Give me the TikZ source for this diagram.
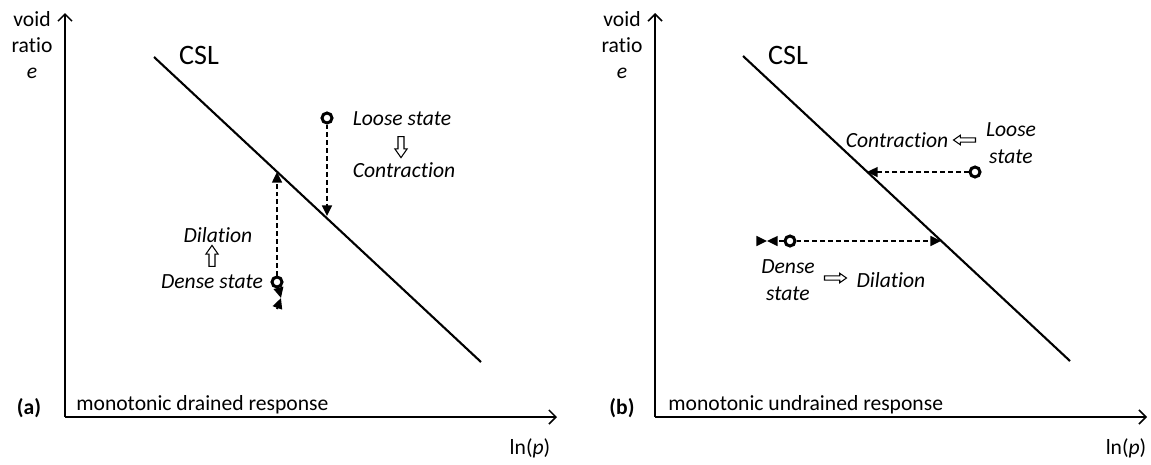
\documentclass[tikz,border=0pt]{standalone}
\usepackage{fontspec}
\setmainfont{Carlito}[Ligatures=NoCommon]
\usepackage{tikz}
\usetikzlibrary{arrows.meta,positioning,calc,shapes.arrows}
\tikzset{
  axisline/.style={-{Straight Barb[length=4pt,width=8pt]}, line width=0.9pt},
  cslline/.style={line width=1.2pt},
  pathdash/.style={dash pattern=on 2.8pt off 1.7pt, line width=1.2pt, -{Triangle[length=6pt,width=5.5pt]}},
  statecirc/.style={circle, draw, line width=1.7pt, fill=white, minimum size=0.2cm, inner sep=0pt},
  lbl/.style={font=\fontsize{12.3}{15}\selectfont, align=center, inner sep=0pt},
  statelbl/.style={font=\fontsize{12.3}{15}\selectfont\itshape, align=center, inner sep=0pt},
  openarrow/.style={single arrow, draw, line width=0.6pt, inner xsep=0pt, inner ysep=1.4pt,
    single arrow head extend=1.8pt, single arrow tip angle=70},
}
\begin{document}
\begin{tikzpicture}[x=0.02cm, y=-0.02cm]
  \useasboundingbox (0,0) rectangle (1151,464);

  % axes of both panels
  \foreach \p/\xo in {A/65, B/655} {
    \coordinate (orig\p) at (\xo,417);
    \coordinate (ytop\p) at (\xo,13);
    \coordinate (xend\p) at ($(\xo,417)+(492,0)$);
    \draw[axisline] (orig\p) -- (ytop\p);
    \draw[axisline] (orig\p) -- (xend\p);
  }

  % panel (a): drained
  \node[lbl] (yaxA) at (32,45) {void\\ratio\\\textit{e}};
  \node[lbl] (xaxA) at (530,448) {ln(\textit{p})};
  \node[lbl, font=\fontsize{12.3}{15}\selectfont\bfseries] (tagA) at (29,408) {(a)};
  \node[lbl, anchor=west] (respA) at (76,405) {monotonic drained response};
  \coordinate (cslA0) at (154,57);
  \coordinate (cslA1) at (481,362);
  \draw[cslline] (cslA0) -- (cslA1);
  \node[lbl, font=\fontsize{16}{18}\selectfont] (cslnameA) at (199,55) {CSL};

  \node[statecirc] (looseA) at (327,118) {};
  \coordinate (hitlooseA) at (327,216);
  \draw[pathdash] (looseA) -- (hitlooseA);
  \node[statelbl] (looselblA) at (402,119) {Loose state};
  \node[openarrow, minimum height=0.42cm, rotate=-90] (downA) at (401,145) {};
  \node[statelbl] (contrA) at (404,170) {Contraction};

  \node[statecirc] (denseA) at (277,282) {};
  \coordinate (hitdenseA) at (277,172);
  \draw[pathdash] (denseA) -- (hitdenseA);
  \coordinate (turnA) at (281,298);
  \draw[pathdash] (denseA) -- (turnA);
  \draw[line width=1.2pt, {Triangle[length=6pt,width=5.5pt]}-] (turnA) -- ++(-4,11);
  \node[statelbl] (dilA) at (218,235) {Dilation};
  \node[openarrow, minimum height=0.42cm, rotate=90] (upA) at (212,258) {};
  \node[statelbl] (denselblA) at (212,282) {Dense state};

  % panel (b): undrained
  \node[lbl] (yaxB) at (622,45) {void\\ratio\\\textit{e}};
  \node[lbl] (xaxB) at (1126,448) {ln(\textit{p})};
  \node[lbl, font=\fontsize{12.3}{15}\selectfont\bfseries] (tagB) at (622,408) {(b)};
  \node[lbl, anchor=west] (respB) at (668,405) {monotonic undrained response};
  \coordinate (cslB0) at (743,56);
  \coordinate (cslB1) at (1070,361);
  \draw[cslline] (cslB0) -- (cslB1);
  \node[lbl, font=\fontsize{16}{18}\selectfont] (cslnameB) at (788,55) {CSL};

  \node[statecirc] (looseB) at (975,172) {};
  \coordinate (hitlooseB) at (867,172);
  \draw[pathdash] (looseB) -- (hitlooseB);
  \node[statelbl] (contrB) at (897,140) {Contraction};
  \node[openarrow, minimum height=0.44cm, inner ysep=0.9pt, single arrow head extend=1.5pt, rotate=180] (leftB) at (966,140) {};
  \node[statelbl] (looselblB) at (1011,143) {Loose\\state};

  \node[statecirc] (denseB) at (790,241) {};
  \coordinate (hitdenseB) at (941,241);
  \draw[pathdash] (denseB) -- (hitdenseB);
  \coordinate (turnB) at (767,241);
  \draw[pathdash] (denseB) -- (turnB);
  \draw[line width=1.2pt, {Triangle[length=6pt,width=5.5pt]}-] (turnB) -- ++(-10,0);
  \node[statelbl] (denselblB) at (788,280) {Dense\\state};
  \node[openarrow, minimum height=0.44cm, inner ysep=0.9pt, single arrow head extend=1.5pt] (rightB) at (834,278) {};
  \node[statelbl] (dilB) at (891,280) {Dilation};
\end{tikzpicture}
\end{document}
